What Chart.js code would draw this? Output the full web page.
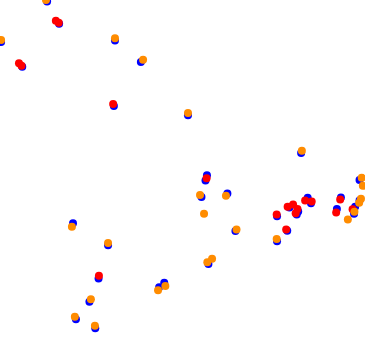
<!DOCTYPE html>
<html>
<head>
<meta charset="utf-8">
<title>scatter</title>
<script src="https://cdn.jsdelivr.net/npm/chart.js"></script>
<style>
body{
    margin: 0;
    background: #fff;
}
.canvas_div{
    width: 365px;
    height: 350px;
}
</style>
</head>
<body>
<div class="canvas_div">
    <canvas id="myChart"></canvas>
</div>
<script>
// axis range (no axes drawn)
const xRange = [0, 10];
const yRange = [0, 10];

// blue points
const blueX = [1.29, 1.62, 0.03, 0.61, 3.15, 3.86, 3.12, 5.15, 8.25, 5.67, 5.63, 5.52, 6.23,
    7.59, 7.93, 8.17, 8.13, 8.43, 8.52, 7.87, 7.59, 6.45, 9.34, 9.23, 9.73, 9.70, 9.85, 9.85,
    2.00, 2.96, 2.70, 5.71, 2.45, 4.36, 4.50, 2.08, 2.61];
const blueY = [9.96, 9.32, 8.80, 8.09, 8.84, 8.23, 6.97, 6.71, 5.63, 4.99, 4.84, 4.37, 4.47,
    3.82, 4.07, 3.96, 3.87, 4.35, 4.19, 3.41, 3.11, 3.40, 4.36, 4.03, 4.09, 3.89, 4.27, 4.86,
    3.62, 2.99, 2.04, 2.46, 1.38, 1.79, 1.92, 0.88, 0.62];

// red points
const redX = [1.53, 1.61, 0.52, 0.59, 3.10, 5.66, 7.58, 7.88, 8.03, 8.15, 8.10, 8.36, 8.54,
    7.84, 9.32, 9.21, 9.66, 2.71];
const redY = [9.41, 9.35, 8.19, 8.12, 7.03, 4.91, 3.87, 4.09, 4.16, 4.03, 3.91, 4.27, 4.24,
    3.44, 4.30, 3.93, 4.02, 2.12];

// orange points
const orangeX = [1.26, 0.03, 3.15, 3.92, 5.15, 8.27, 5.48, 6.19, 5.59, 7.58, 6.48, 9.53, 9.71,
    9.89, 9.84, 9.91, 9.94, 1.97, 2.96, 5.68, 5.81, 2.49, 4.33, 4.53, 2.05, 2.60];
const orangeY = [10.00, 8.86, 8.91, 8.29, 6.77, 5.69, 4.43, 4.41, 3.89, 3.17, 3.44, 3.73, 3.95,
    4.32, 4.21, 4.92, 4.69, 3.52, 3.06, 2.51, 2.61, 1.45, 1.71, 1.83, 0.95, 0.69];

function toPoints(xs, ys){
    var pts = [];
    for (var i = 0; i < xs.length; i++){
        pts.push({x: xs[i], y: ys[i]});
    }
    return pts;
}

const data = {
    datasets: [
        {
            label: 'orange',
            data: toPoints(orangeX, orangeY),
            backgroundColor: 'rgb(255, 140, 0)',
            order: 1
        },
        {
            label: 'red',
            data: toPoints(redX, redY),
            backgroundColor: 'rgb(255, 0, 0)',
            order: 2
        },
        {
            label: 'blue',
            data: toPoints(blueX, blueY),
            backgroundColor: 'rgb(0, 0, 255)',
            order: 3
        }
    ]
};

let config = {
    type: 'scatter',
    data: data,
    options: {
        responsive: true,
        maintainAspectRatio: false,
        animation: false,
        layout: { padding: 0, autoPadding: false },
        elements: {
            point: { radius: 4, borderWidth: 0, hoverRadius: 4 }
        },
        scales: {
            x: { display: false, min: xRange[0], max: xRange[1] },
            y: { display: false, min: yRange[0], max: yRange[1] }
        },
        plugins: {
            legend: { display: false },
            tooltip: { enabled: false }
        }
    }
};

var myChart = new Chart(document.getElementById("myChart"), config);
</script>
</body>
</html>
